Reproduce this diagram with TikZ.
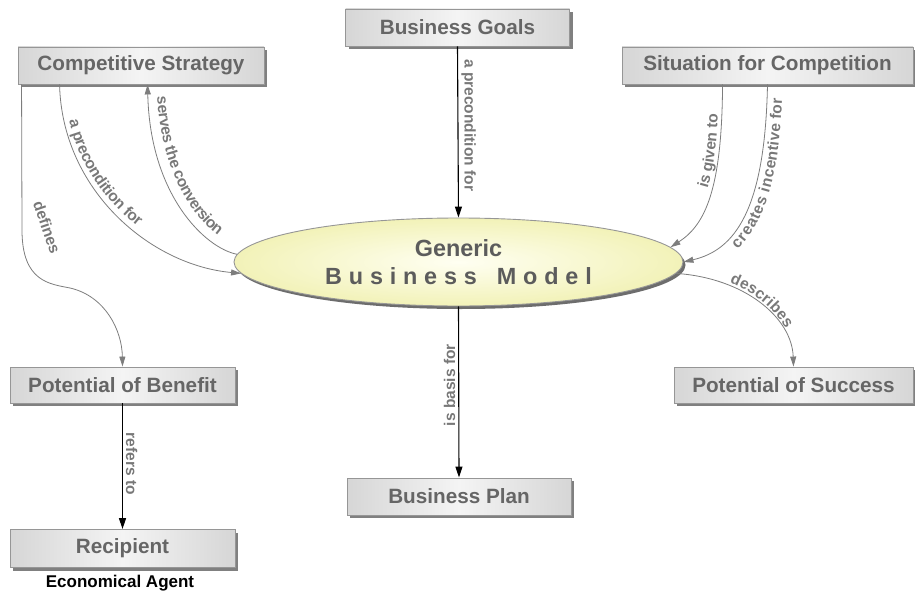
\documentclass[tikz,border=0pt]{standalone}
\usepackage{fontspec}
\setmainfont{Liberation Sans}
\usetikzlibrary{arrows.meta,shapes.geometric,shadows,decorations.text}

\definecolor{boxtext}{RGB}{102,102,102}
\definecolor{boxline}{RGB}{150,150,150}
\definecolor{boxedge}{RGB}{214,214,214}
\definecolor{boxmid}{RGB}{244,244,244}
\definecolor{shade}{RGB}{128,128,128}
\definecolor{lbl}{RGB}{120,120,120}
\definecolor{conn}{RGB}{125,125,125}
\definecolor{ellin}{RGB}{255,255,242}
\definecolor{ellout}{RGB}{242,242,184}
\definecolor{elltext}{RGB}{92,92,92}

\newcommand\boxfont{\bfseries\fontsize{20.7}{24}\selectfont}
\newcommand\edgefont{\bfseries\fontsize{15.5}{18}\selectfont}
\newcommand\corefont{\bfseries\fontsize{23.4}{28}\selectfont}
\newcommand\ltrgap{\kern6.8pt}

\tikzset{
  concept/.style={rectangle, draw=boxline, line width=0.9pt, minimum height=37pt,
    inner sep=0pt, font=\boxfont, text=boxtext,
    left color=boxedge, right color=boxedge, middle color=boxmid,
    drop shadow={shadow xshift=3pt, shadow yshift=-3pt, fill=shade, opacity=1}},
  core/.style={ellipse, draw=boxline, line width=0.9pt, minimum width=449pt,
    minimum height=88pt, inner sep=0pt, inner color=ellin, outer color=ellout,
    text=elltext, align=center,
    drop shadow={shadow xshift=2.5pt, shadow yshift=-3pt, fill=shade!85!black, opacity=1}},
  ctip/.tip={Triangle[length=10pt,width=6pt]},
  btip/.tip={Triangle[length=11pt,width=7pt]},
  darr/.style={draw=black, line width=1.1pt, -btip},
  garr/.style={draw=conn, line width=0.8pt, -ctip},
  gback/.style={draw=conn, line width=0.8pt, ctip-},
  elabel/.style={font=\edgefont, text=lbl, inner sep=3pt},
  curvelabel/.style={postaction={decorate}},
}

\begin{document}
\begin{tikzpicture}[x=1pt, y=-1pt]
\useasboundingbox (0,0) rectangle (915,594);

% concepts
\node[concept, minimum width=246pt] (cs)  at (141,65.5)   {Competitive Strategy};
\node[concept, minimum width=224pt] (bg)  at (457.5,27.5) {Business Goals};
\node[concept, minimum width=291pt] (sit) at (767.5,65.5) {Situation for Competition};
\node[concept, minimum width=225pt, minimum height=36pt] (pb) at (122.5,385) {Potential of Benefit};
\node[concept, minimum width=225pt, minimum height=38pt] (rec) at (122.5,548.5) {Recipient};
\node[concept, minimum width=224pt] (bp)  at (459,496.5) {Business Plan};
\node[concept, minimum width=239pt, minimum height=36pt] (ps) at (793.5,385) {Potential of Success};

\node[core] (ell) at (458.5,262)
  {\corefont Generic\\[10pt]
   \corefont B\ltrgap u\ltrgap s\ltrgap i\ltrgap n\ltrgap e\ltrgap s\ltrgap s\ltrgap\ \ltrgap M\ltrgap o\ltrgap d\ltrgap e\ltrgap l};

\node[font=\bfseries\fontsize{17}{20}\selectfont, text=black] (agent) at (120,583) {Economical Agent};

% straight relations
\draw[darr] (bg.south) -- (ell.north)
  node[elabel, pos=0.46, rotate=-90, anchor=south] {a precondition for};
\draw[darr] (ell.south) -- (bp.north)
  node[elabel, pos=0.46, rotate=90, anchor=south] {is basis for};
\draw[darr] (pb.south) -- (rec.north)
  node[elabel, pos=0.48, rotate=-90, anchor=south] {refers to};

% curved relations
\draw[garr, curvelabel, decoration={text along path, text color=lbl, raise=5pt,
    text={|\edgefont|a precondition for}, text align={align=left, left indent=38pt}}]
  ([xshift=42pt]cs.south west) .. controls (62,190) and (150,265) .. (ell.183);

\draw[gback, curvelabel, decoration={text along path, text color=lbl, raise=9pt,
    text={|\edgefont|serves the conversion}, text align={align=left, left indent=13pt}}]
  ([xshift=130pt]cs.south west) .. controls (150,195) and (205,248) .. (ell.178);

\draw[garr] ([xshift=4pt]cs.south west) -- (22,230)
  .. controls (22,282) and (50,284) .. (70,288)
  .. controls (105,296) and (122,330) .. (pb.north);
\node[elabel, rotate=-71] (deflbl) at (47,227) {defines};

\draw[gback, curvelabel, decoration={text along path, text color=lbl, raise=4pt,
    text={|\edgefont|is given to}, text align={align=left, left indent=72pt}}]
  (ell.4) .. controls (705,225) and (722,190) .. ([xshift=101pt]sit.south west);

\draw[gback, curvelabel, decoration={text along path, text color=lbl, raise=-15pt,
    text={|\edgefont|creates incentive for}, text align={align=left, left indent=49pt}}]
  (ell.east) .. controls (735,250) and (765,210) .. (sit.south);

\draw[garr, curvelabel, decoration={text along path, text color=lbl, raise=3pt,
    text={|\edgefont|describes}, text align={align=left, left indent=54pt}}]
  (ell.-3) .. controls (745,278) and (792,318) .. (ps.north);
\end{tikzpicture}
\end{document}
